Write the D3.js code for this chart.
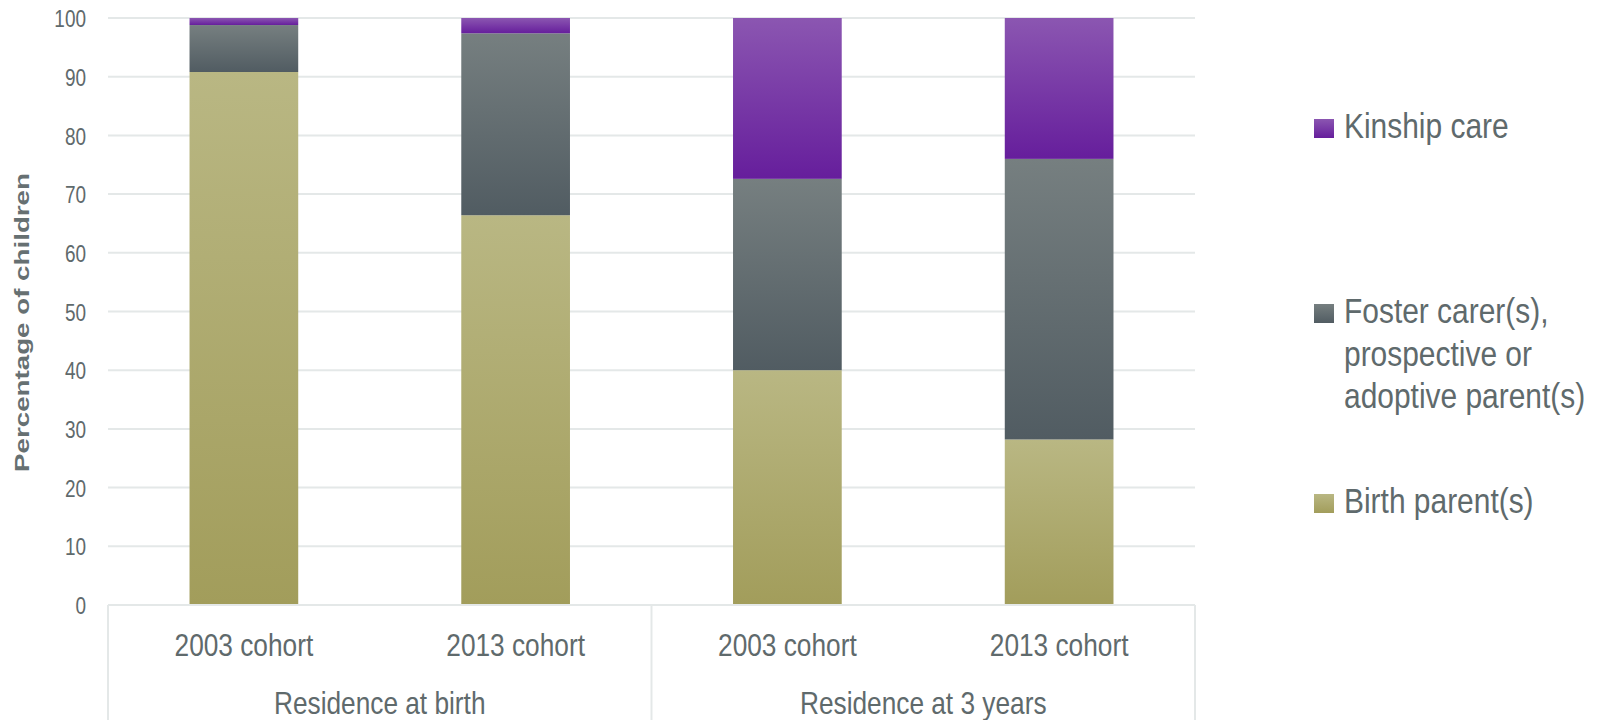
<!DOCTYPE html>
<html>
<head>
<meta charset="utf-8">
<script src="https://cdn.jsdelivr.net/npm/d3@7"></script>
<style>
  html, body { margin: 0; padding: 0; background: #ffffff; }
  svg { display: block; }
</style>
</head>
<body>
<svg id="chart" width="1603" height="720"></svg>
<script>
// Categories: residence group and cohort for each bar
const groups = ["Residence at birth", "Residence at 3 years"];
const cohorts = ["2003 cohort", "2013 cohort", "2003 cohort", "2013 cohort"];
const barGroup = [0, 0, 1, 1];

// Percentage of children by residence type (stack order bottom → top)
const birthParents = [90.8, 66.4, 40.0, 28.2];
const fosterAdoptive = [8.0, 31.0, 32.6, 47.8];
const kinshipCare = [1.2, 2.6, 27.4, 24.0];

const seriesNames = ["Birth parent(s)", "Foster carer(s), prospective or adoptive parent(s)", "Kinship care"];
const yTicks = [0, 10, 20, 30, 40, 50, 60, 70, 80, 90, 100];

const svg = d3.select("#chart");
const textColor = "#5f6a6c";
const gridColor = "#e4e8e8";
const sans = "'Liberation Sans', Arial, sans-serif";

const plot = { left: 108, right: 1195, top: 18, bottom: 605 };

// Condense a text element horizontally (narrow-face look)
function condense(sel, factor) {
  sel.each(function () {
    const w = this.getComputedTextLength();
    d3.select(this).attr("textLength", w * factor).attr("lengthAdjust", "spacingAndGlyphs");
  });
}

// Vertical gradients, lighter at the top of each segment
const palettes = [
  { id: "g-birth", top: "#b9b783", bottom: "#a29d5b" },
  { id: "g-foster", top: "#767f80", bottom: "#515c62" },
  { id: "g-kin", top: "#8b56b1", bottom: "#661e9c" }
];
const defs = svg.append("defs");
palettes.forEach(p => {
  const g = defs.append("linearGradient").attr("id", p.id)
    .attr("x1", 0).attr("y1", 0).attr("x2", 0).attr("y2", 1);
  g.append("stop").attr("offset", "0%").attr("stop-color", p.top);
  g.append("stop").attr("offset", "100%").attr("stop-color", p.bottom);
});

const x = d3.scaleBand()
  .domain(d3.range(cohorts.length))
  .range([plot.left, plot.right])
  .paddingInner(0.6)
  .paddingOuter(0.3);

const y = d3.scaleLinear().domain([0, 100]).range([plot.bottom, plot.top]);

// Gridlines
svg.append("g").selectAll("line")
  .data(yTicks.filter(t => t > 0))
  .join("line")
  .attr("x1", plot.left).attr("x2", plot.right)
  .attr("y1", d => y(d)).attr("y2", d => y(d))
  .attr("stroke", gridColor).attr("stroke-width", 2);

// Y axis tick labels
const yAxis = d3.axisLeft(y).tickValues(yTicks).tickSize(0).tickPadding(22);
const yg = svg.append("g").attr("transform", `translate(${plot.left},0)`).call(yAxis);
yg.select(".domain").remove();
yg.selectAll("text")
  .attr("fill", textColor)
  .attr("font-family", sans)
  .attr("font-size", 24)
  .attr("dy", "0.36em")
  .call(condense, 0.79);

// Stacked bars
const rows = cohorts.map((c, i) => ({
  i,
  birth: birthParents[i],
  foster: fosterAdoptive[i],
  kin: kinshipCare[i]
}));
const stack = d3.stack().keys(["birth", "foster", "kin"]);
const layers = stack(rows);

svg.append("g").selectAll("g")
  .data(layers)
  .join("g")
  .attr("fill", (d, k) => `url(#${palettes[k].id})`)
  .selectAll("rect")
  .data(d => d)
  .join("rect")
  .attr("x", d => x(d.data.i))
  .attr("width", x.bandwidth())
  .attr("y", d => y(d[1]))
  .attr("height", d => y(d[0]) - y(d[1]));

// Category axis: baseline, group separators and labels
const axisG = svg.append("g");
axisG.append("line")
  .attr("x1", plot.left).attr("x2", plot.right)
  .attr("y1", y(0)).attr("y2", y(0))
  .attr("stroke", gridColor).attr("stroke-width", 2);

const step = x.step();
const groupEdges = [x(0) - x.paddingOuter() * step];
groups.forEach((g, gi) => {
  const idx = barGroup.map((b, i) => b === gi ? i : -1).filter(i => i >= 0);
  const last = idx[idx.length - 1];
  groupEdges.push(gi === groups.length - 1 ? plot.right : x(last) + x.bandwidth() + (step - x.bandwidth()) / 2);
});
axisG.selectAll("line.sep")
  .data(groupEdges)
  .join("line")
  .attr("class", "sep")
  .attr("x1", d => d).attr("x2", d => d)
  .attr("y1", y(0)).attr("y2", 720)
  .attr("stroke", gridColor).attr("stroke-width", 2);

axisG.selectAll("text.cohort")
  .data(cohorts)
  .join("text")
  .attr("class", "cohort")
  .attr("x", (d, i) => x(i) + x.bandwidth() / 2)
  .attr("y", 656)
  .attr("text-anchor", "middle")
  .attr("fill", textColor)
  .attr("font-family", sans)
  .attr("font-size", 32)
  .text(d => d)
  .call(condense, 0.82);

axisG.selectAll("text.group")
  .data(groups)
  .join("text")
  .attr("class", "group")
  .attr("x", (d, gi) => (groupEdges[gi] + groupEdges[gi + 1]) / 2)
  .attr("y", 714)
  .attr("text-anchor", "middle")
  .attr("fill", textColor)
  .attr("font-family", sans)
  .attr("font-size", 32)
  .text(d => d)
  .call(condense, 0.82);

// Y axis title
svg.append("text")
  .attr("transform", `translate(29,${(173 + 472) / 2}) rotate(-90)`)
  .attr("text-anchor", "middle")
  .attr("fill", "#667072")
  .attr("font-family", sans)
  .attr("font-weight", "bold")
  .attr("font-size", 20)
  .attr("textLength", 299)
  .attr("lengthAdjust", "spacingAndGlyphs")
  .text("Percentage of children");

// Legend (top to bottom: kinship, foster, birth)
const legendItems = [
  { k: 2, lines: ["Kinship care"], base: 138 },
  { k: 1, lines: ["Foster carer(s),", "prospective or", "adoptive parent(s)"], base: 323 },
  { k: 0, lines: ["Birth parent(s)"], base: 513 }
];
const lg = svg.append("g");
const item = lg.selectAll("g").data(legendItems).join("g");
item.append("rect")
  .attr("x", 1314).attr("y", d => d.base - 19)
  .attr("width", 20).attr("height", 19)
  .attr("fill", d => `url(#${palettes[d.k].id})`);
item.selectAll("text")
  .data(d => d.lines.map((t, j) => ({ t, y: d.base + j * 42.5 })))
  .join("text")
  .attr("x", 1344)
  .attr("y", d => d.y)
  .attr("fill", textColor)
  .attr("font-family", sans)
  .attr("font-size", 35)
  .text(d => d.t)
  .call(condense, 0.855);
</script>
</body>
</html>
